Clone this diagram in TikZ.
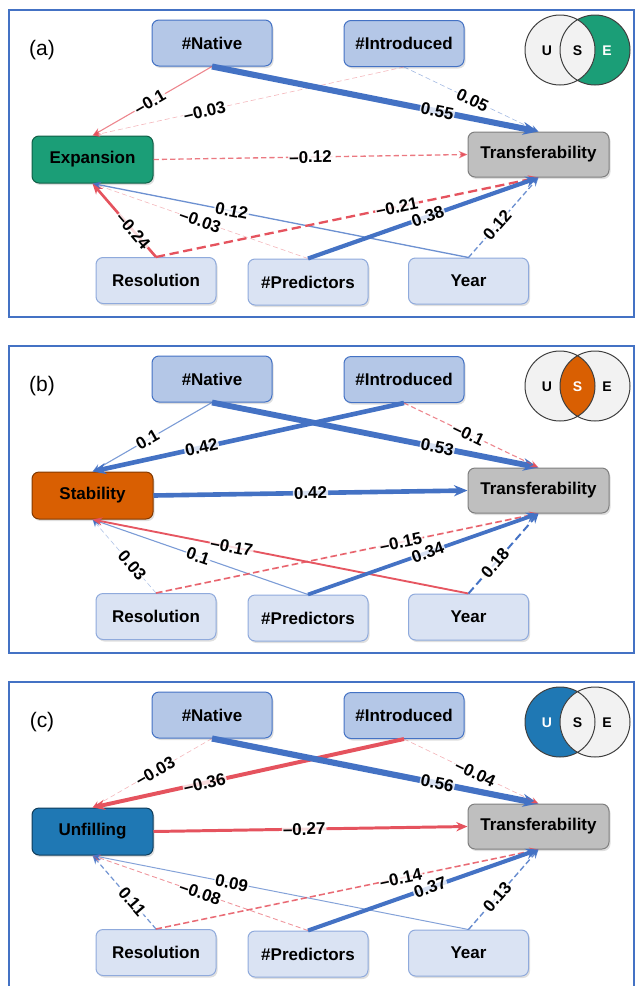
\documentclass[tikz,border=0pt]{standalone}
\usepackage{fontspec}
\setmainfont{Liberation Sans}
\usetikzlibrary{arrows.meta, shadows}
\definecolor{frameblue}{HTML}{4472C4}
\definecolor{topfill}{HTML}{B4C7E7}
\definecolor{botfill}{HTML}{DAE3F3}
\definecolor{botdraw}{HTML}{8FAADC}
\definecolor{grayfill}{HTML}{BFBFBF}
\definecolor{graydraw}{HTML}{7F7F7F}
\definecolor{expgreen}{HTML}{1B9E77}
\definecolor{staborange}{HTML}{D95F02}
\definecolor{unfblue}{HTML}{1F78B4}
\definecolor{posline}{HTML}{4472C4}
\definecolor{negline}{HTML}{E5535E}
\definecolor{venngray}{HTML}{F2F2F2}
\tikzset{
    frame/.style = {draw=frameblue, line width=2.5pt},
    tag/.style = {font=\fontsize{21}{21}\selectfont},
    box/.style = {rectangle, rounded corners=7pt, line width=1pt, minimum width=120pt, minimum height=46pt,
        font=\fontsize{17}{17}\selectfont\bfseries,
        drop shadow={opacity=0.25, shadow xshift=1.5pt, shadow yshift=-2pt}},
    topbox/.style = {box, fill=topfill, draw=frameblue},
    botbox/.style = {box, fill=botfill, draw=botdraw},
    outbox/.style = {box, fill=grayfill, draw=graydraw, minimum width=141pt, minimum height=45pt},
    expbox/.style = {box, fill=expgreen, draw=expgreen!60!black, minimum width=121pt, minimum height=47pt},
    stabbox/.style = {box, fill=staborange, draw=staborange!60!black, minimum width=121pt, minimum height=47pt},
    unfbox/.style = {box, fill=unfblue, draw=unfblue!50!black, minimum width=121pt, minimum height=47pt},
    poseff/.style = {draw=posline, -{Stealth[length=7pt 1.4, width=6pt 1.1]}},
    negeff/.style = {draw=negline, -{Stealth[length=7pt 1.4, width=6pt 1.1]}},
    dsh/.style = {dash pattern=on \dson pt off \dsoff pt},
    coef/.style = {sloped, fill=white, fill opacity=0.8, text opacity=1, inner sep=1pt,
        font=\fontsize{17}{17}\selectfont\bfseries},
    vennline/.style = {draw=black!75, line width=1pt},
    vennlab/.style = {font=\fontsize{14}{14}\selectfont\bfseries, inner sep=0pt}
}
% one path: style, from, to, |estimate|, label, label position
\newcommand{\pcoef}[6]{%
    \pgfmathsetmacro{\lw}{max(0.6,11*#4)}%
    \pgfmathsetmacro{\op}{min(1,0.3+4*#4)}%
    \pgfmathsetmacro{\dson}{max(5,4*\lw)}%
    \pgfmathsetmacro{\dsoff}{max(3,2*\lw)}%
    \draw[#1, line width=\lw pt, draw opacity=\op] (#2) -- node[coef, pos=#6] {#5} (#3);
}
% frame, panel tag and the seven variables
\newcommand{\panelnodes}[3]{%
    \draw[frame] (9,10) rectangle (634,317);
    \node[tag] (tag#1) at (42,50) {(#1)};
    \node[topbox] (nat) at (212,43) {\#Native};
    \node[topbox] (intro) at (404,43.5) {\#Introduced};
    \node[#3] (mid) at (92.5,159.5) {#2};
    \node[outbox] (tra) at (538.5,154.5) {Transferability};
    \node[botbox] (res) at (156,280.5) {Resolution};
    \node[botbox] (pred) at (308,282) {\#Predictors};
    \node[botbox] (year) at (468.5,281) {Year};
}
% venn key: colours of U, S, E, then their letter colours
\newcommand{\venn}[6]{%
    \fill[#1] (560,50) circle[radius=35];
    \fill[#3] (595,50) circle[radius=35];
    \begin{scope}
        \clip (560,50) circle[radius=35];
        \fill[#2] (595,50) circle[radius=35];
    \end{scope}
    \draw[vennline] (560,50) circle[radius=35] (595,50) circle[radius=35];
    \node[vennlab, text=#4] (vu) at (547,51) {U};
    \node[vennlab, text=#5] (vs) at (577.5,51) {S};
    \node[vennlab, text=#6] (ve) at (607,51) {E};
}

\begin{document}
\begin{tikzpicture}[x=1pt, y=-1pt]
\useasboundingbox (0,0) rectangle (635,986);
\clip (0,0) rectangle (635,986);

% (a) expansion
\begin{scope}
    \panelnodes{a}{Expansion}{expbox}
    \venn{venngray}{venngray}{expgreen}{black}{black}{white}
    \pcoef{negeff}{nat.south}{mid.north}{0.1}{--0.1}{0.52}
    \pcoef{negeff,dsh}{intro.south}{mid.north}{0.03}{--0.03}{0.64}
    \pcoef{poseff}{nat.south}{tra.north}{0.55}{0.55}{0.69}
    \pcoef{poseff,dsh}{intro.south}{tra.north}{0.05}{0.05}{0.51}
    \pcoef{negeff,dsh}{mid.east}{tra.west}{0.12}{--0.12}{0.5}
    \pcoef{negeff}{res.north}{mid.south}{0.24}{--0.24}{0.36}
    \pcoef{negeff,dsh}{pred.north}{mid.south}{0.03}{--0.03}{0.5}
    \pcoef{poseff}{year.north}{mid.south}{0.12}{0.12}{0.63}
    \pcoef{negeff,dsh}{res.north}{tra.south}{0.21}{--0.21}{0.63}
    \pcoef{poseff}{pred.north}{tra.south}{0.38}{0.38}{0.52}
    \pcoef{poseff,dsh}{year.north}{tra.south}{0.12}{0.12}{0.41}
\end{scope}

% (b) stability
\begin{scope}[yshift=-336pt]
    \panelnodes{b}{Stability}{stabbox}
    \venn{venngray}{staborange}{venngray}{black}{white}{black}
    \pcoef{poseff}{nat.south}{mid.north}{0.1}{0.1}{0.54}
    \pcoef{poseff}{intro.south}{mid.north}{0.42}{0.42}{0.65}
    \pcoef{poseff}{nat.south}{tra.north}{0.53}{0.53}{0.69}
    \pcoef{negeff,dsh}{intro.south}{tra.north}{0.1}{--0.1}{0.48}
    \pcoef{poseff}{mid.east}{tra.west}{0.42}{0.42}{0.5}
    \pcoef{poseff,dsh}{res.north}{mid.south}{0.03}{0.03}{0.375}
    \pcoef{poseff}{pred.north}{mid.south}{0.1}{0.1}{0.51}
    \pcoef{negeff}{year.north}{mid.south}{0.17}{--0.17}{0.63}
    \pcoef{negeff,dsh}{res.north}{tra.south}{0.15}{--0.15}{0.64}
    \pcoef{poseff}{pred.north}{tra.south}{0.34}{0.34}{0.52}
    \pcoef{poseff,dsh}{year.north}{tra.south}{0.18}{0.18}{0.38}
\end{scope}

% (c) unfilling
\begin{scope}[yshift=-672pt]
    \panelnodes{c}{Unfilling}{unfbox}
    \venn{unfblue}{venngray}{venngray}{white}{black}{black}
    \pcoef{negeff,dsh}{nat.south}{mid.north}{0.03}{--0.03}{0.475}
    \pcoef{negeff}{intro.south}{mid.north}{0.36}{--0.36}{0.64}
    \pcoef{poseff}{nat.south}{tra.north}{0.56}{0.56}{0.69}
    \pcoef{negeff,dsh}{intro.south}{tra.north}{0.04}{--0.04}{0.53}
    \pcoef{negeff}{mid.east}{tra.west}{0.27}{--0.27}{0.48}
    \pcoef{poseff,dsh}{res.north}{mid.south}{0.11}{0.11}{0.375}
    \pcoef{negeff,dsh}{pred.north}{mid.south}{0.08}{--0.08}{0.5}
    \pcoef{poseff}{year.north}{mid.south}{0.09}{0.09}{0.63}
    \pcoef{negeff,dsh}{res.north}{tra.south}{0.14}{--0.14}{0.64}
    \pcoef{poseff}{pred.north}{tra.south}{0.37}{0.37}{0.53}
    \pcoef{poseff,dsh}{year.north}{tra.south}{0.13}{0.13}{0.41}
\end{scope}
\end{tikzpicture}
\end{document}
